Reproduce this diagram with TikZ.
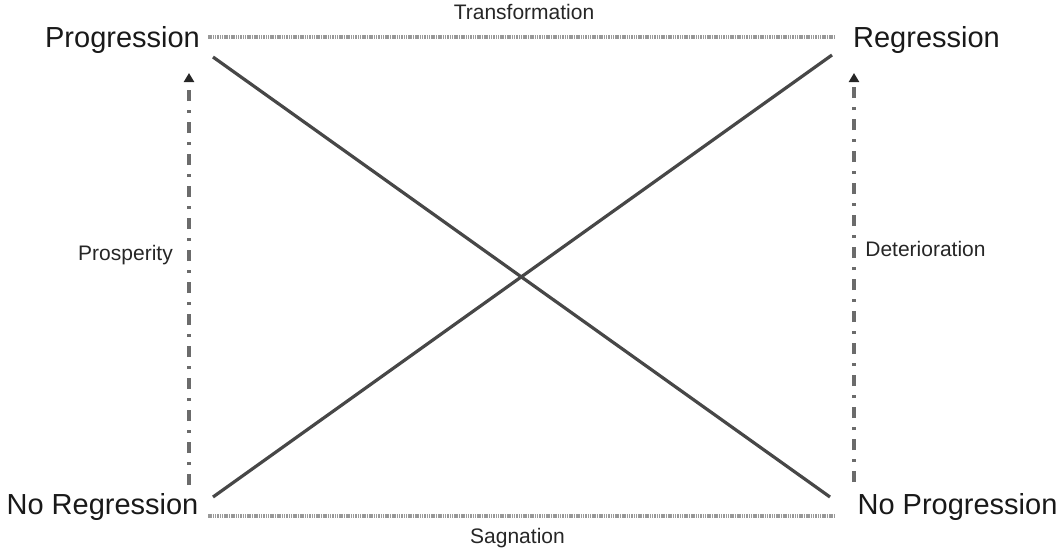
\documentclass[tikz,border=0pt]{standalone}
\usepackage{fontspec}
\setmainfont{Liberation Sans}
\usetikzlibrary{arrows.meta}
\begin{document}
\begin{tikzpicture}[x=1pt,y=-1pt,
  big/.style={font=\fontsize{29}{32}\selectfont, anchor=base, inner sep=0pt, text=black!90},
  small/.style={font=\fontsize{21}{24}\selectfont, anchor=base, inner sep=0pt, text=black!85},
  dotline/.style={draw=black!40, line width=4pt, dash pattern=on 1.5pt off 0.8pt},
  diag/.style={draw=black!72, line width=3.2pt},
  vert/.style={draw=black!58, line width=3.6pt, dash pattern=on 11pt off 9pt on 3pt off 9pt, -{Triangle[length=9pt,width=10pt,color=black!85]}}]
\useasboundingbox (0,0) rectangle (1060,547);
\node[big] (prog) at (122.5,47) {Progression};
\node[big] (reg) at (926.5,47) {Regression};
\node[big] (noreg) at (102.5,514) {No Regression};
\node[big] (noprog) at (957.5,514) {No Progression};
\node[small] (trans) at (524,19) {Transformation};
\node[small] (sag) at (517.5,543) {Sagnation};
\node[small] (prosp) at (125.5,260) {Prosperity};
\node[small] (det) at (925.5,256) {Deterioration};
\coordinate (tl) at (208,37);
\coordinate (tr) at (834,37);
\coordinate (bl) at (208,516);
\coordinate (br) at (834,516);
\coordinate (d1a) at (213,57);
\coordinate (d1b) at (830,497);
\coordinate (d2a) at (213,497);
\coordinate (d2b) at (832,55);
\coordinate (lb) at (189,485);
\coordinate (lt) at (189,73);
\coordinate (rb) at (854,482);
\coordinate (rt) at (854,73);
\draw[dotline] (tl) -- (tr);
\draw[dotline] (bl) -- (br);
\draw[diag] (d1a) -- (d1b);
\draw[diag] (d2a) -- (d2b);
\draw[vert] (lb) -- (lt);
\draw[vert] (rb) -- (rt);
\end{tikzpicture}
\end{document}
